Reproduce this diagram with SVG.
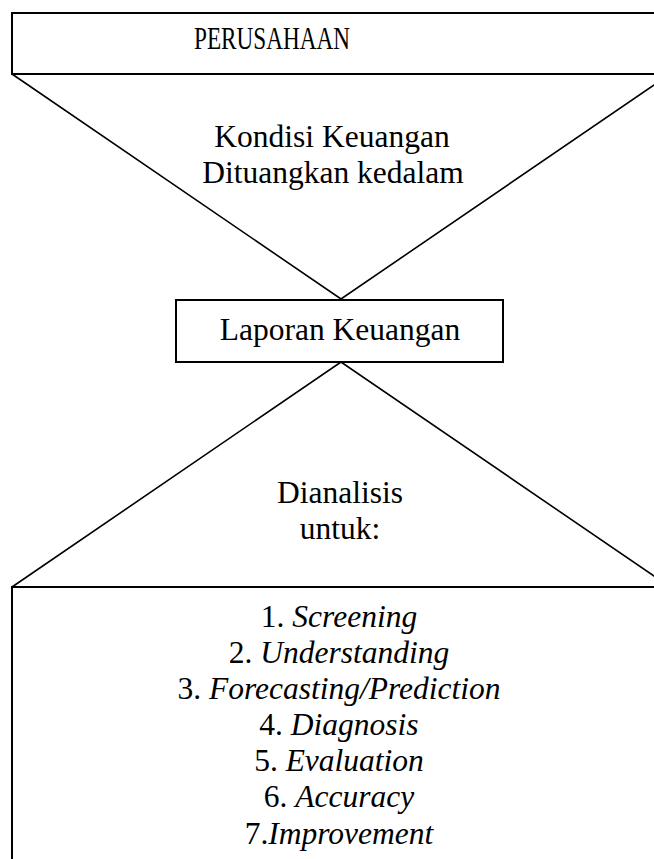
<svg xmlns="http://www.w3.org/2000/svg" width="654" height="859" viewBox="0 0 654 859">
<style>
.box{fill:#fff;stroke:#000;stroke-width:2}
.ln{fill:none;stroke:#000;stroke-width:1.6}
.t{font-family:'Liberation Serif',serif;font-size:31.5px;fill:#000;text-anchor:middle}
.it{font-style:italic}
</style>
<rect width="654" height="859" fill="#fff"/>
<g id="connectors">
<polyline class="ln" points="12,74 341,299 670,74"/>
<polyline class="ln" points="12,587 341,362 670,587"/>
</g>
<g id="perusahaan">
<rect class="box" x="12" y="13" width="660" height="61"/>
<text class="t" x="272" y="49" font-size="27" textLength="156" lengthAdjust="spacingAndGlyphs">PERUSAHAAN</text>
</g>
<g id="kondisi">
<text class="t" x="332" y="147">Kondisi Keuangan</text>
<text class="t" x="333" y="183">Dituangkan kedalam</text>
</g>
<g id="laporan">
<rect class="box" x="176" y="300" width="327" height="62"/>
<text class="t" x="340" y="340">Laporan Keuangan</text>
</g>
<g id="dianalisis">
<text class="t" x="340" y="503">Dianalisis</text>
<text class="t" x="340" y="539">untuk:</text>
</g>
<g id="list">
<rect class="box" x="12" y="587" width="660" height="290"/>
<text class="t" x="339" y="627">1. <tspan class="it">Screening</tspan></text>
<text class="t" x="339" y="663">2. <tspan class="it">Understanding</tspan></text>
<text class="t" x="339" y="699">3. <tspan class="it">Forecasting/Prediction</tspan></text>
<text class="t" x="339" y="735">4. <tspan class="it">Diagnosis</tspan></text>
<text class="t" x="339" y="771">5. <tspan class="it">Evaluation</tspan></text>
<text class="t" x="339" y="807">6. <tspan class="it">Accuracy</tspan></text>
<text class="t" x="339" y="844">7.<tspan class="it">Improvement</tspan></text>
</g>
</svg>
